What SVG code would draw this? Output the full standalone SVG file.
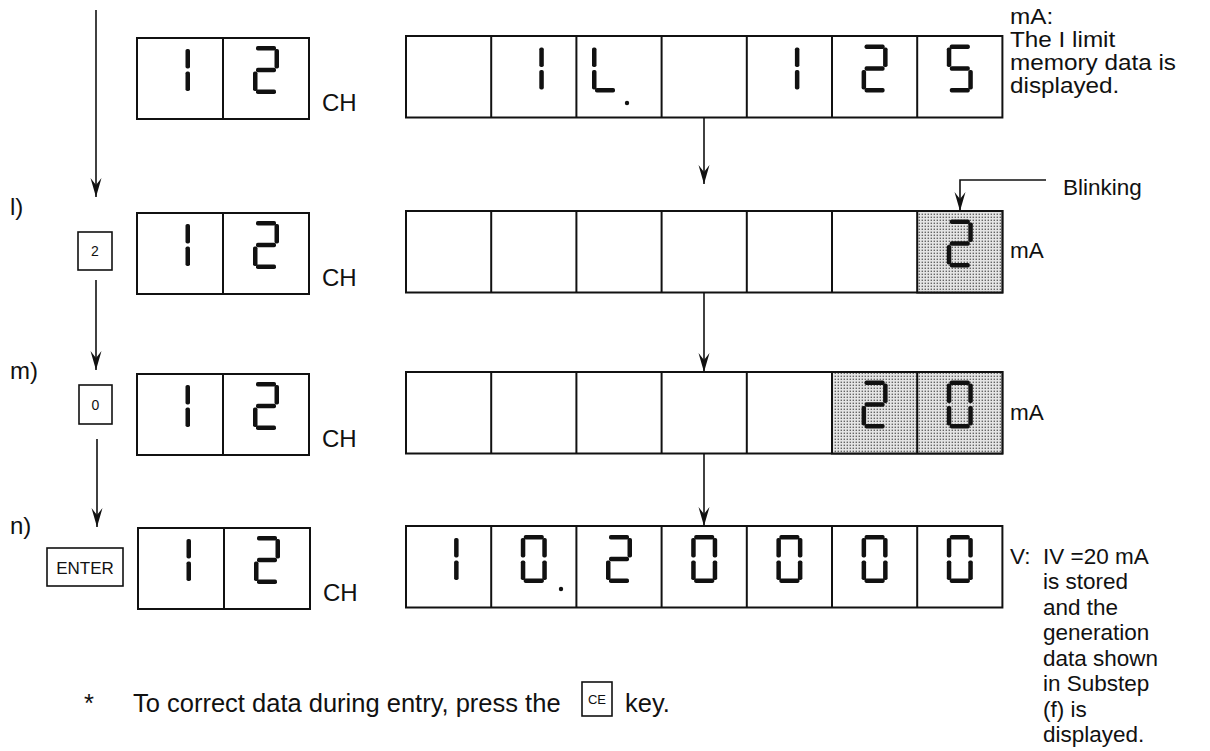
<svg xmlns="http://www.w3.org/2000/svg" xmlns:xlink="http://www.w3.org/1999/xlink" width="1210" height="751" viewBox="0 0 1210 751">
<style>
.box{fill:#fff;stroke:#111;stroke-width:2}
.div{stroke:#111;stroke-width:2}
.shade{fill:url(#stip);stroke:#111;stroke-width:2}
.key{fill:#fff;stroke:#111;stroke-width:1.6}
.seg{fill:#111}
.t{font-family:"Liberation Sans",Arial,sans-serif;fill:#111}
.lbl{font-size:24px}
.rt{font-size:22.5px}
.note{font-size:25.5px}
.conn{stroke:#111;stroke-width:1.6;fill:none}
</style>
<defs>
<pattern id="stip" width="3" height="3" patternUnits="userSpaceOnUse"><rect width="3" height="3" fill="#e4e4e4"/><rect x="0.6" y="0.6" width="1.4" height="1.4" fill="#666"/></pattern>
<marker id="ah" viewBox="-20 -6 21 12" refX="0" refY="0" markerWidth="21" markerHeight="12" markerUnits="userSpaceOnUse" orient="auto"><path d="M0,0 L-19,-5.5 L-12,0 L-19,5.5 Z" fill="#111"/></marker>
<rect id="sa" class="seg" x="3" y="0" width="20" height="4.6" rx="1.8"/>
<rect id="sb" class="seg" x="21.5" y="3" width="4.5" height="19.5" rx="1.8"/>
<rect id="sc" class="seg" x="21.5" y="25.5" width="4.5" height="19.5" rx="1.8"/>
<rect id="sd" class="seg" x="3" y="43.4" width="20" height="4.6" rx="1.8"/>
<rect id="se" class="seg" x="0" y="25.5" width="4.5" height="19.5" rx="1.8"/>
<rect id="sf" class="seg" x="0" y="3" width="4.5" height="19.5" rx="1.8"/>
<rect id="sg" class="seg" x="3" y="21.7" width="20" height="4.6" rx="1.8"/>
<g id="d0"><use xlink:href="#sa"/><use xlink:href="#sb"/><use xlink:href="#sc"/><use xlink:href="#sd"/><use xlink:href="#se"/><use xlink:href="#sf"/></g>
<g id="d1"><use xlink:href="#sb" x="-3"/><use xlink:href="#sc" x="-3"/></g>
<g id="d2"><use xlink:href="#sa"/><use xlink:href="#sb"/><use xlink:href="#sg"/><use xlink:href="#se"/><use xlink:href="#sd"/></g>
<g id="d5"><use xlink:href="#sa"/><use xlink:href="#sf"/><use xlink:href="#sg"/><use xlink:href="#sc"/><use xlink:href="#sd"/></g>
<g id="dL"><use xlink:href="#sf"/><use xlink:href="#se"/><use xlink:href="#sd"/></g>
</defs>
<rect width="1210" height="751" fill="#fff"/>

<!-- Row 1 -->
<g id="ch-row1">
<rect class="box" x="137" y="38" width="172" height="81"/>
<line class="div" x1="223" y1="38" x2="223" y2="119"/>
<use xlink:href="#d1" x="167" y="46"/>
<use xlink:href="#d2" x="253" y="46"/>
<text class="t lbl" x="322" y="111">CH</text>
</g>
<g id="display-row1">
<rect class="box" x="406" y="36" width="596.4" height="81.5"/>
<line class="div" x1="491.2" y1="36" x2="491.2" y2="117.5"/>
<line class="div" x1="576.4" y1="36" x2="576.4" y2="117.5"/>
<line class="div" x1="661.6" y1="36" x2="661.6" y2="117.5"/>
<line class="div" x1="746.8" y1="36" x2="746.8" y2="117.5"/>
<line class="div" x1="832" y1="36" x2="832" y2="117.5"/>
<line class="div" x1="917.2" y1="36" x2="917.2" y2="117.5"/>
<use xlink:href="#d1" x="520.8" y="44.5"/>
<use xlink:href="#dL" x="592" y="44.5"/>
<circle class="seg" cx="627" cy="103" r="2.2"/>
<use xlink:href="#d1" x="776.4" y="44.5"/>
<use xlink:href="#d2" x="861.6" y="44.5"/>
<use xlink:href="#d5" x="946.8" y="44.5"/>
</g>
<g id="desc-row1" transform="translate(1010,0) scale(1.08,1) translate(-1010,0)">
<text class="t rt" x="1010" y="24">mA:</text>
<text class="t rt" x="1010" y="47">The I limit</text>
<text class="t rt" x="1010" y="70">memory data is</text>
<text class="t rt" x="1010" y="93">displayed.</text>
</g>

<!-- Row 2 (l) -->
<text id="label-l" class="t lbl" x="10" y="215">l)</text>
<g id="key-2">
<rect class="key" x="78" y="232" width="34" height="38"/>
<text class="t" x="95" y="256" font-size="14" text-anchor="middle">2</text>
</g>
<g id="ch-row2">
<rect class="box" x="137" y="213" width="172" height="81"/>
<line class="div" x1="223" y1="213" x2="223" y2="294"/>
<use xlink:href="#d1" x="167" y="221"/>
<use xlink:href="#d2" x="253" y="221"/>
<text class="t lbl" x="322" y="286">CH</text>
</g>
<g id="display-row2">
<rect class="box" x="406" y="211" width="596.4" height="81.5"/>
<rect class="shade" x="917.2" y="211" width="85.2" height="81.5"/>
<line class="div" x1="491.2" y1="211" x2="491.2" y2="292.5"/>
<line class="div" x1="576.4" y1="211" x2="576.4" y2="292.5"/>
<line class="div" x1="661.6" y1="211" x2="661.6" y2="292.5"/>
<line class="div" x1="746.8" y1="211" x2="746.8" y2="292.5"/>
<line class="div" x1="832" y1="211" x2="832" y2="292.5"/>
<use xlink:href="#d2" x="946.8" y="219.5"/>
<text class="t rt" x="1010" y="258">mA</text>
</g>
<text id="label-blinking" class="t rt" x="1063" y="195">Blinking</text>

<!-- Row 3 (m) -->
<text id="label-m" class="t lbl" x="10" y="379">m)</text>
<g id="key-0">
<rect class="key" x="79" y="385" width="33" height="39"/>
<text class="t" x="95.5" y="410" font-size="14" text-anchor="middle">0</text>
</g>
<g id="ch-row3">
<rect class="box" x="137" y="374" width="172" height="81"/>
<line class="div" x1="223" y1="374" x2="223" y2="455"/>
<use xlink:href="#d1" x="167" y="382"/>
<use xlink:href="#d2" x="253" y="382"/>
<text class="t lbl" x="322" y="447">CH</text>
</g>
<g id="display-row3">
<rect class="box" x="406" y="372" width="596.4" height="81.5"/>
<rect class="shade" x="832" y="372" width="170.4" height="81.5"/>
<line class="div" x1="491.2" y1="372" x2="491.2" y2="453.5"/>
<line class="div" x1="576.4" y1="372" x2="576.4" y2="453.5"/>
<line class="div" x1="661.6" y1="372" x2="661.6" y2="453.5"/>
<line class="div" x1="746.8" y1="372" x2="746.8" y2="453.5"/>
<line class="div" x1="917.2" y1="372" x2="917.2" y2="453.5"/>
<use xlink:href="#d2" x="861.6" y="380.5"/>
<use xlink:href="#d0" x="946.8" y="380.5"/>
<text class="t rt" x="1010" y="420">mA</text>
</g>

<!-- Row 4 (n) -->
<text id="label-n" class="t lbl" x="10" y="534">n)</text>
<g id="key-enter">
<rect class="key" x="47" y="548" width="76" height="38"/>
<text class="t" x="85" y="574" font-size="17" text-anchor="middle">ENTER</text>
</g>
<g id="ch-row4">
<rect class="box" x="138" y="528" width="172" height="81"/>
<line class="div" x1="224" y1="528" x2="224" y2="609"/>
<use xlink:href="#d1" x="168" y="536"/>
<use xlink:href="#d2" x="254" y="536"/>
<text class="t lbl" x="323" y="601">CH</text>
</g>
<g id="display-row4">
<rect class="box" x="406" y="526" width="596.4" height="81.5"/>
<line class="div" x1="491.2" y1="526" x2="491.2" y2="607.5"/>
<line class="div" x1="576.4" y1="526" x2="576.4" y2="607.5"/>
<line class="div" x1="661.6" y1="526" x2="661.6" y2="607.5"/>
<line class="div" x1="746.8" y1="526" x2="746.8" y2="607.5"/>
<line class="div" x1="832" y1="526" x2="832" y2="607.5"/>
<line class="div" x1="917.2" y1="526" x2="917.2" y2="607.5"/>
<use xlink:href="#d1" x="435.6" y="535"/>
<use xlink:href="#d0" x="520.8" y="535"/>
<circle class="seg" cx="561" cy="589" r="2.2"/>
<use xlink:href="#d2" x="606" y="535"/>
<use xlink:href="#d0" x="691.2" y="535"/>
<use xlink:href="#d0" x="776.4" y="535"/>
<use xlink:href="#d0" x="861.6" y="535"/>
<use xlink:href="#d0" x="946.8" y="535"/>
</g>
<g id="desc-row4">
<text class="t rt" x="1010" y="564">V:</text>
<text class="t rt" x="1043" y="564">IV =20 mA</text>
<text class="t rt" x="1043" y="589">is stored</text>
<text class="t rt" x="1043" y="614.5">and the</text>
<text class="t rt" x="1043" y="640">generation</text>
<text class="t rt" x="1043" y="665.5">data shown</text>
<text class="t rt" x="1043" y="691">in Substep</text>
<text class="t rt" x="1043" y="716.5">(f) is</text>
<text class="t rt" x="1043" y="742">displayed.</text>
</g>

<!-- Note -->
<g id="note">
<text class="t note" x="84" y="712">*</text>
<text class="t note" x="133" y="712">To correct data during entry, press the</text>
<rect class="key" x="582" y="682" width="30" height="34"/>
<text class="t" x="597" y="704" font-size="13" text-anchor="middle">CE</text>
<text class="t note" x="625" y="712">key.</text>
</g>

<!-- Connectors -->
<g id="connectors">
<line class="conn" x1="96" y1="10" x2="96" y2="197" marker-end="url(#ah)"/>
<line class="conn" x1="96" y1="280" x2="96" y2="370" marker-end="url(#ah)"/>
<line class="conn" x1="97" y1="439" x2="97" y2="527" marker-end="url(#ah)"/>
<line class="conn" x1="704" y1="117.5" x2="704" y2="184" marker-end="url(#ah)"/>
<line class="conn" x1="704" y1="292.5" x2="704" y2="372" marker-end="url(#ah)"/>
<line class="conn" x1="704" y1="453.5" x2="704" y2="526" marker-end="url(#ah)"/>
<polyline class="conn" points="1046,180 960,180 960,211" marker-end="url(#ah)"/>
</g>
</svg>
